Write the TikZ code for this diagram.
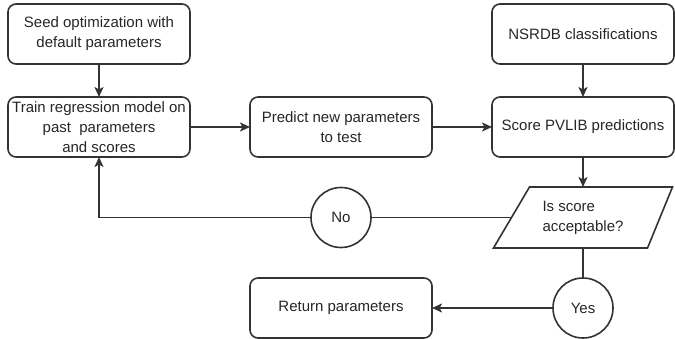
\documentclass[tikz,border=0pt]{standalone}
\usepackage{fontspec}
\setmainfont{Liberation Sans}
\usetikzlibrary{shapes,arrows.meta,positioning,calc}

\begin{document}
\begin{tikzpicture}[x=1pt, y=-1pt,
        every node/.style={font=\fontsize{15}{20}\selectfont, text=black!85},
        stepbox/.style={rectangle, rounded corners=8pt, draw=black!80, line width=1.6pt, minimum width=182pt, minimum height=60pt, align=center, inner sep=1pt, outer sep=0pt},
        choice/.style={circle, draw=black!80, line width=1.6pt, minimum size=60pt, inner sep=0pt, outer sep=0pt},
        flow/.style={draw=black!80, line width=1.6pt, -{Stealth[length=10pt,width=9pt,inset=2.5pt]}},
        link/.style={draw=black!80, line width=1.6pt}]
        \useasboundingbox (0,0) rectangle (675,338);
        \node (seed) [stepbox] at (99,34) {Seed optimization with\\default parameters};
        \node (train) [stepbox, below=33pt of seed] {Train regression model on\\past\ \ parameters\\and scores};
        \node (predict) [stepbox, right=60pt of train] {Predict new parameters\\to test};
        \node (score) [stepbox, right=60pt of predict] {Score PVLIB predictions};
        \node (nsrdb) [stepbox, above=33pt of score] {NSRDB classifications};
        \node (check) [rectangle, minimum width=179pt, minimum height=61pt, outer sep=0pt, align=left, below=30pt of score] {Is score\\acceptable?};
        \draw[link] ([xshift=36pt]check.north west) -- (check.north east) -- ([xshift=-25pt]check.south east) -- (check.south west) -- cycle;
        \node (yes) [choice, below=30pt of check] {Yes};
        \node (no) [choice] at (predict |- check) {No};
        \node (ret) [stepbox] at (predict |- yes) {Return parameters};
        \draw[flow] (seed) -- (train);
        \draw[flow] (train) -- (predict);
        \draw[flow] (predict) -- (score);
        \draw[flow] (nsrdb) -- (score);
        \draw[flow] (score) -- (check);
        \draw[link] ([xshift=18pt]check.west) -- (no);
        \draw[flow] (no) -| (train);
        \draw[link] (check) -- (yes);
        \draw[flow] (yes) -- (ret);
    \end{tikzpicture}
\end{document}
